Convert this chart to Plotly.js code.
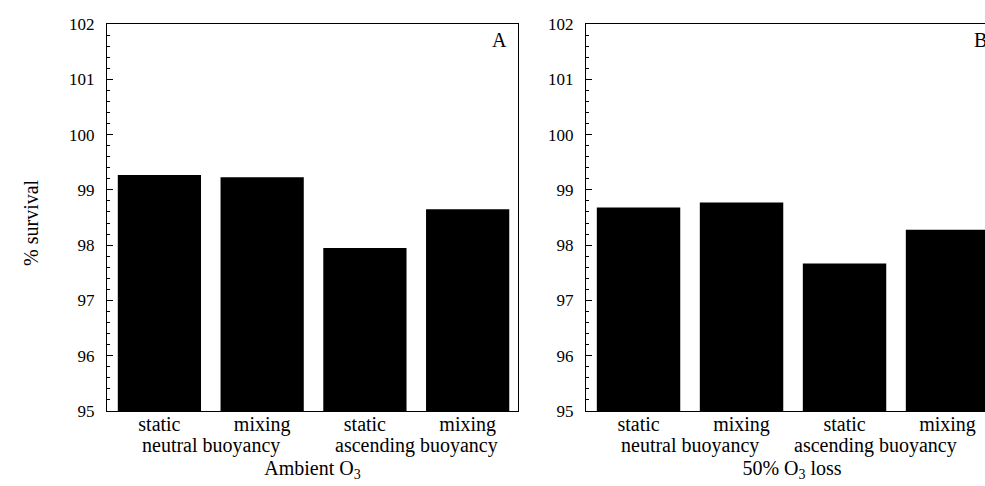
<!DOCTYPE html>
<html>
<head>
<meta charset="utf-8">
<script src="https://cdn.plot.ly/plotly-3.0.1.min.js"></script>
<style>
html,body{margin:0;padding:0;overflow:hidden;background:#fff;}
#chart{width:1000px;height:486px;}
</style>
</head>
<body>
<div id="chart"></div>
<script>
// Data
var treatments = ["static", "mixing", "static", "mixing"];
var groupLabels = ["neutral buoyancy", "ascending buoyancy"];
var survivalAmbient = [99.27, 99.23, 97.95, 98.65];
var survivalLoss = [98.68, 98.77, 97.67, 98.28];
var panelTitles = ["Ambient O<sub>3</sub>", "50% O<sub>3</sub> loss"];
var panelLetters = ["A", "B"];
var yLabel = "% survival";

var idx = treatments.map(function (_, i) { return i; });
var FONT = "Liberation Serif, Times New Roman, serif";

var traces = [
  {type: "bar", x: idx, y: survivalAmbient, xaxis: "x", yaxis: "y",
   marker: {color: "#000", line: {width: 0}}, width: 0.81, hoverinfo: "y"},
  {type: "bar", x: idx, y: survivalLoss, xaxis: "x2", yaxis: "y2",
   marker: {color: "#000", line: {width: 0}}, width: 0.81, hoverinfo: "y"}
];

function yax(anchor) {
  return {
    anchor: anchor, domain: [0, 1], range: [95, 102],
    tickvals: [95, 96, 97, 98, 99, 100, 101, 102],
    ticks: "inside", ticklen: 6, tickwidth: 1, tickcolor: "#000",
    minor: {dtick: 0.2, ticks: "inside", ticklen: 3, tickcolor: "#000", tickwidth: 1},
    showline: true, mirror: true, linecolor: "#000", linewidth: 1,
    showgrid: false, zeroline: false,
    tickfont: {family: FONT, size: 17, color: "#000"},
    ticklabelstandoff: 8
  };
}
function xax(domain, anchor, title) {
  return {
    anchor: anchor, domain: domain, range: [-0.51, 3.49],
    tickvals: idx, ticktext: treatments, ticks: "",
    showline: true, mirror: true, linecolor: "#000", linewidth: 1,
    showgrid: false, zeroline: false,
    tickfont: {family: FONT, size: 20, color: "#000"},
    ticklabelstandoff: -5,
    title: {text: title, font: {family: FONT, size: 20, color: "#000"}, standoff: 25}
  };
}

var annotations = [];
[["x", 2.5], ["x2", 2.3]].forEach(function (p, k) {
  annotations.push({xref: p[0], yref: "paper", x: 0.5, y: 0, yanchor: "top", yshift: -21,
    text: groupLabels[0], showarrow: false, font: {family: FONT, size: 20, color: "#000"}});
  annotations.push({xref: p[0], yref: "paper", x: p[1], y: 0, yanchor: "top", yshift: -21,
    text: groupLabels[1], showarrow: false, font: {family: FONT, size: 20, color: "#000"}});
  annotations.push({xref: p[0] + " domain", yref: "paper", x: 1, y: 1, xanchor: "right", yanchor: "top",
    xshift: -9, yshift: -3, text: panelLetters[k], showarrow: false,
    font: {family: FONT, size: 20, color: "#000"}});
});
annotations.push({xref: "paper", yref: "paper", x: 0.018, y: 0.486, textangle: -90,
  text: yLabel, showarrow: false, font: {family: FONT, size: 20, color: "#000"}});

var layout = {
  width: 1000, height: 486,
  margin: {l: 0, r: 0, t: 24, b: 75},
  paper_bgcolor: "#fff", plot_bgcolor: "#fff",
  showlegend: false, bargap: 0.19,
  xaxis: xax([0.107, 0.518], "y", panelTitles[0]),
  yaxis: yax("x"),
  xaxis2: xax([0.586, 0.998], "y2", panelTitles[1]),
  yaxis2: yax("x2"),
  annotations: annotations
};

Plotly.newPlot("chart", traces, layout, {displayModeBar: false, staticPlot: true});
</script>
</body>
</html>
